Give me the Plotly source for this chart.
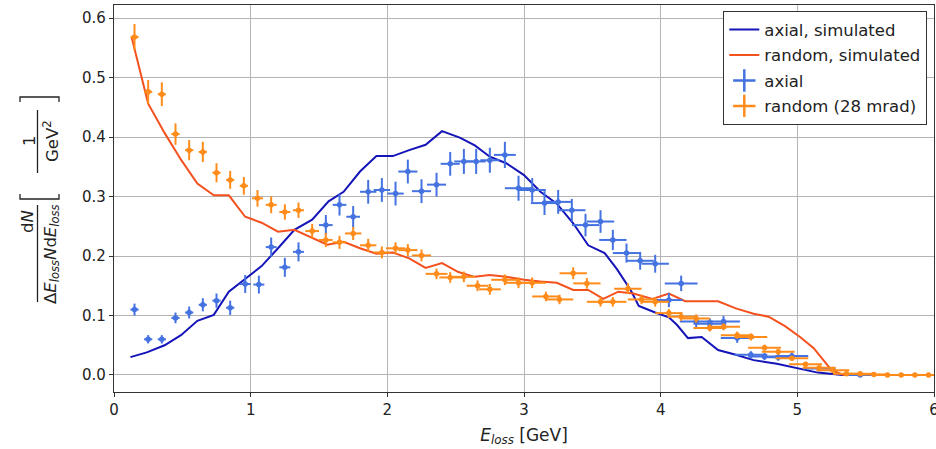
import plotly.graph_objects as go

# ---- simulated energy-loss spectra ----
sim_axial_e = [0.12, 0.24, 0.37, 0.49, 0.61, 0.73, 0.84, 0.97, 1.08, 1.20, 1.32, 1.45, 1.57, 1.68,
               1.80, 1.92, 2.04, 2.16, 2.28, 2.40, 2.53, 2.64, 2.75, 2.87, 3.00, 3.12, 3.24, 3.36,
               3.47, 3.59, 3.68, 3.78, 3.84, 3.96, 4.06, 4.12, 4.20, 4.30, 4.42, 4.55, 4.68, 4.85,
               5.02, 5.15, 5.33, 6.00]
sim_axial = [0.030, 0.038, 0.050, 0.067, 0.091, 0.101, 0.140, 0.164, 0.183, 0.213, 0.244, 0.261,
             0.292, 0.308, 0.342, 0.368, 0.368, 0.378, 0.387, 0.410, 0.399, 0.386, 0.367, 0.356,
             0.336, 0.308, 0.288, 0.255, 0.218, 0.205, 0.178, 0.143, 0.116, 0.105, 0.097, 0.084,
             0.062, 0.064, 0.042, 0.034, 0.025, 0.019, 0.011, 0.004, 0.000, 0.000]

sim_random_e = [0.13, 0.25, 0.37, 0.49, 0.61, 0.73, 0.84, 0.96, 1.08, 1.20, 1.32, 1.45, 1.56, 1.68,
                1.80, 1.92, 2.04, 2.16, 2.28, 2.40, 2.52, 2.64, 2.75, 2.87, 3.00, 3.12, 3.24, 3.36,
                3.47, 3.58, 3.69, 3.80, 3.94, 4.06, 4.18, 4.29, 4.42, 4.55, 4.68, 4.79, 4.91, 5.02,
                5.12, 5.25, 5.34, 6.00]
sim_random = [0.567, 0.456, 0.407, 0.362, 0.322, 0.302, 0.302, 0.266, 0.256, 0.241, 0.244, 0.231,
              0.219, 0.224, 0.213, 0.204, 0.206, 0.196, 0.180, 0.188, 0.173, 0.165, 0.168, 0.165,
              0.160, 0.157, 0.155, 0.143, 0.143, 0.128, 0.140, 0.137, 0.128, 0.137, 0.124, 0.124,
              0.124, 0.112, 0.103, 0.098, 0.082, 0.064, 0.045, 0.008, 0.000, 0.000]

# ---- measured spectra: bin centre, half bin width, value, uncertainty ----
axial_e = [0.15, 0.25, 0.35, 0.45, 0.55, 0.65, 0.75, 0.85, 0.96, 1.06, 1.15, 1.25, 1.35, 1.55,
           1.65, 1.75, 1.86, 1.96, 2.06, 2.15, 2.25, 2.36, 2.46, 2.56, 2.65, 2.75, 2.86, 2.96,
           3.06, 3.15, 3.25, 3.35, 3.45, 3.56, 3.65, 3.75, 3.85, 3.96, 4.06, 4.15, 4.26, 4.36,
           4.46, 4.56, 4.66, 4.76, 4.86, 4.96, 5.16, 5.46]
axial_de = [0.03, 0.03, 0.03, 0.03, 0.03, 0.03, 0.03, 0.03, 0.04, 0.04, 0.04, 0.04, 0.04, 0.05,
            0.05, 0.05, 0.06, 0.06, 0.06, 0.07, 0.07, 0.07, 0.07, 0.07, 0.07, 0.07, 0.08, 0.10,
            0.10, 0.10, 0.10, 0.10, 0.10, 0.10, 0.10, 0.10, 0.10, 0.10, 0.10, 0.12, 0.12, 0.12,
            0.12, 0.12, 0.12, 0.12, 0.12, 0.12, 0.12, 0.10]
axial_val = [0.110, 0.060, 0.060, 0.096, 0.105, 0.118, 0.125, 0.113, 0.153, 0.152, 0.215, 0.181,
             0.207, 0.252, 0.286, 0.266, 0.308, 0.311, 0.305, 0.342, 0.309, 0.320, 0.355, 0.359,
             0.359, 0.361, 0.370, 0.314, 0.311, 0.289, 0.291, 0.277, 0.252, 0.258, 0.227, 0.205,
             0.192, 0.187, 0.126, 0.154, 0.090, 0.086, 0.090, 0.062, 0.034, 0.031, 0.030, 0.032,
             0.011, 0.000]
axial_err = [0.010, 0.007, 0.007, 0.009, 0.010, 0.011, 0.012, 0.012, 0.015, 0.015, 0.016, 0.016,
             0.016, 0.017, 0.018, 0.018, 0.020, 0.020, 0.020, 0.020, 0.020, 0.020, 0.020, 0.021,
             0.021, 0.021, 0.022, 0.021, 0.020, 0.020, 0.020, 0.019, 0.019, 0.019, 0.017, 0.016,
             0.015, 0.015, 0.012, 0.013, 0.010, 0.009, 0.009, 0.008, 0.006, 0.006, 0.006, 0.006,
             0.004, 0.002]

random_e = [0.15, 0.25, 0.35, 0.45, 0.55, 0.65, 0.75, 0.85, 0.95, 1.05, 1.15, 1.25, 1.35, 1.45,
            1.55, 1.65, 1.75, 1.86, 1.96, 2.06, 2.15, 2.25, 2.36, 2.46, 2.56, 2.66, 2.75, 2.86,
            2.96, 3.06, 3.16, 3.26, 3.36, 3.46, 3.56, 3.65, 3.76, 3.86, 3.96, 4.06, 4.15, 4.26,
            4.36, 4.46, 4.56, 4.66, 4.76, 4.86, 4.96, 5.06, 5.16, 5.26, 5.36, 5.46, 5.56, 5.66,
            5.76, 5.86, 5.96]
random_de = [0.03, 0.03, 0.03, 0.03, 0.03, 0.03, 0.03, 0.03, 0.03, 0.04, 0.04, 0.04, 0.04, 0.05,
             0.05, 0.05, 0.06, 0.06, 0.06, 0.07, 0.07, 0.07, 0.08, 0.08, 0.08, 0.08, 0.08, 0.10,
             0.10, 0.10, 0.10, 0.10, 0.10, 0.10, 0.10, 0.10, 0.10, 0.10, 0.10, 0.10, 0.10, 0.10,
             0.12, 0.12, 0.12, 0.12, 0.12, 0.12, 0.12, 0.12, 0.12, 0.12, 0.10, 0.10, 0.10, 0.10,
             0.10, 0.10, 0.10]
random_val = [0.568, 0.476, 0.472, 0.405, 0.378, 0.375, 0.340, 0.328, 0.318, 0.297, 0.286, 0.274,
              0.277, 0.242, 0.227, 0.223, 0.238, 0.218, 0.206, 0.213, 0.210, 0.201, 0.170, 0.164,
              0.165, 0.150, 0.144, 0.160, 0.155, 0.155, 0.132, 0.127, 0.171, 0.154, 0.123, 0.123,
              0.145, 0.127, 0.123, 0.104, 0.098, 0.095, 0.079, 0.081, 0.067, 0.064, 0.046, 0.039,
              0.028, 0.018, 0.012, 0.008, 0.002, 0.002, 0.001, 0.000, 0.000, 0.000, 0.000]
random_err = [0.022, 0.020, 0.020, 0.018, 0.017, 0.017, 0.016, 0.015, 0.015, 0.014, 0.014, 0.013,
              0.013, 0.012, 0.012, 0.011, 0.011, 0.011, 0.010, 0.010, 0.010, 0.010, 0.009, 0.009,
              0.009, 0.009, 0.009, 0.009, 0.009, 0.009, 0.008, 0.008, 0.010, 0.009, 0.008, 0.008,
              0.009, 0.008, 0.008, 0.007, 0.007, 0.007, 0.006, 0.006, 0.006, 0.006, 0.005, 0.005,
              0.004, 0.004, 0.003, 0.003, 0.001, 0.001, 0.001, 0.001, 0.001, 0.001, 0.001]

x_ticks = [0, 1, 2, 3, 4, 5, 6]
y_ticks = [0.0, 0.1, 0.2, 0.3, 0.4, 0.5, 0.6]

C_AX_SIM = "#1414b8"
C_RD_SIM = "#f4511e"
C_AX = "#4472e0"
C_RD = "#ff8c1a"
FONT = "DejaVu Sans"
TXT = "#222"

fig = go.Figure()

fig.add_trace(go.Scatter(x=sim_axial_e, y=sim_axial, mode="lines", name="axial, simulated",
                         line=dict(color=C_AX_SIM, width=2), legendgroup="a"))
fig.add_trace(go.Scatter(x=sim_random_e, y=sim_random, mode="lines", name="random, simulated",
                         line=dict(color=C_RD_SIM, width=2), legendgroup="b"))

for xs, dxs, ys, dys, col, grp, label in [
    (axial_e, axial_de, axial_val, axial_err, C_AX, "c", "axial"),
    (random_e, random_de, random_val, random_err, C_RD, "d", "random (28 mrad)"),
]:
    fig.add_trace(go.Scatter(
        x=xs, y=ys, mode="markers", showlegend=False, legendgroup=grp,
        marker=dict(color=col, size=5.5),
        error_x=dict(type="data", array=dxs, color=col, thickness=2, width=0),
        error_y=dict(type="data", array=dys, color=col, thickness=2, width=0),
    ))
    # legend handle: error-bar cross
    fig.add_trace(go.Scatter(
        x=[None], y=[None], mode="markers", name=label, legendgroup=grp,
        marker=dict(symbol="cross-thin", size=16, color=col, line=dict(color=col, width=2.5)),
    ))

axis_common = dict(
    showgrid=True, gridcolor="#b4b4b4", gridwidth=1,
    showline=True, linecolor="#333", linewidth=1.3, mirror=True,
    ticks="outside", ticklen=4, tickcolor="#333",
    tickfont=dict(family=FONT, size=15, color=TXT), zeroline=False,
    ticklabeloverflow="allow", automargin=False,
)
fig.update_xaxes(
    range=[0, 6], tickvals=x_ticks, ticktext=[str(t) for t in x_ticks],
    title=dict(text="<i>E<sub>loss</sub></i> [GeV]", font=dict(family=FONT, size=17, color=TXT),
               standoff=10),
    **axis_common,
)
fig.update_yaxes(
    range=[-0.0286, 0.622], tickvals=y_ticks, ticktext=[f"{t:.1f}" for t in y_ticks],
    **axis_common,
)

# ---- y-axis label: dN / (ΔE_loss N dE_loss) [1/GeV²], built from rotated pieces ----
L, R, T, B = 114, 2, 5, 57
W, H = 936, 449
PW, PH = W - L - R, H - T - B


def px(xp):
    return (xp - L) / PW


def py(yp):
    return (H - B - yp) / PH


def rot_text(text, xp, yp, size=16.5):
    fig.add_annotation(text=text, x=px(xp), y=py(yp), xref="paper", yref="paper",
                       showarrow=False, textangle=-90, xanchor="center", yanchor="middle",
                       font=dict(family=FONT, size=size, color=TXT))


rot_text("d<i>N</i>", 28, 222)
rot_text("Δ<i>E<sub>loss</sub>N</i>d<i>E<sub>loss</sub></i>", 51, 254)
rot_text("1", 29, 141)
rot_text("GeV<sup>2</sup>", 51, 141)

bar = dict(color=TXT, width=1.3)
fig.add_shape(type="line", xref="paper", yref="paper", x0=px(37.5), x1=px(37.5),
              y0=py(205), y1=py(302), line=bar)
fig.add_shape(type="line", xref="paper", yref="paper", x0=px(37.5), x1=px(37.5),
              y0=py(110), y1=py(173), line=bar)
# square brackets around the unit fraction
fig.add_shape(type="path", xref="paper", yref="paper", line=bar,
              path=f"M {px(20)} {py(194)} L {px(20)} {py(199)} L {px(59)} {py(199)} L {px(59)} {py(194)}")
fig.add_shape(type="path", xref="paper", yref="paper", line=bar,
              path=f"M {px(20)} {py(102)} L {px(20)} {py(97)} L {px(59)} {py(97)} L {px(59)} {py(102)}")

fig.update_layout(
    width=W, height=H,
    margin=dict(l=L, r=R, t=T, b=B, autoexpand=False),
    paper_bgcolor="white", plot_bgcolor="white",
    font=dict(family=FONT, color=TXT),
    legend=dict(
        x=px(927), y=py(11), xref="paper", yref="paper", xanchor="right", yanchor="top",
        bgcolor="white", bordercolor="#333", borderwidth=1.3,
        font=dict(family=FONT, size=16.5, color=TXT),
        tracegroupgap=1, itemwidth=30,
    ),
)

fig.write_html("out.html")
